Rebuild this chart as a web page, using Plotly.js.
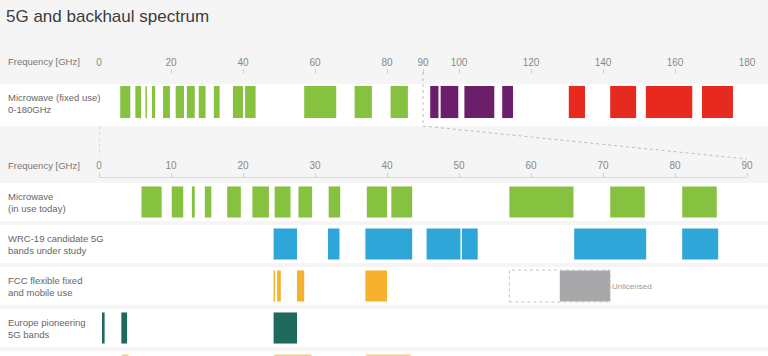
<!DOCTYPE html>
<html>
<head>
<meta charset="utf-8">
<script src="https://cdn.plot.ly/plotly-3.0.1.min.js"></script>
<style>html,body{margin:0;padding:0;background:#f5f5f5;}#chart{width:768px;height:356px;}</style>
</head>
<body>
<div id="chart"></div>
<script>
// ---- data (GHz) ----
const topAxisTicks = [0, 20, 40, 60, 80, 90, 100, 120, 140, 160, 180];
const bottomAxisTicks = [0, 10, 20, 30, 40, 50, 60, 70, 80, 90];

const topRowLabel = 'Microwave (fixed use)<br>0-180GHz';
const bottomRowLabels = ['Microwave<br>(in use today)', 'WRC-19 candidate 5G<br>bands under study', 'FCC flexible fixed<br>and mobile use', 'Europe pioneering<br>5G bands', ''];
const bottomRowKeys = ['mw', 'wrc', 'fcc', 'eu', 'other'];

const microwaveStart = [5.9, 10.1, 12.9, 14.7, 17.8, 21.3, 24.4, 27.7, 31.9, 37.2, 40.6, 57, 71, 81];
const microwaveEnd   = [8.7, 11.7, 13.3, 15.6, 19.7, 23.6, 26.6, 29.6, 33.5, 40.0, 43.5, 65.9, 75.8, 85.8];
const wbandStart = [92.0, 94.9, 101.5, 112.0];
const wbandEnd   = [94.3, 99.8, 109.8, 115.0];
const dbandStart = [130.5, 142.0, 151.9, 167.5];
const dbandEnd   = [135.0, 149.2, 164.8, 176.1];
const wrcStart = [24.25, 31.8, 37.0, 45.5, 50.4, 66.0, 81.0];
const wrcEnd   = [27.5, 33.4, 43.5, 50.2, 52.6, 76.0, 86.0];
const fccStart = [24.25, 24.75, 27.5, 37.0];
const fccEnd   = [24.45, 25.25, 28.5, 40.0];
const unlicensedStart = [64];
const unlicensedEnd   = [71];
const unlicensedOutline = [57, 71];
const europeStart = [0.42, 3.1, 24.25];
const europeEnd   = [0.78, 3.9, 27.5];
const otherStart = [3.15, 24.35, 37.1];
const otherEnd   = [4.1, 29.5, 43.3];

// ---- helpers ----
const H = 356;
const py = p => 1 - p / H;
const FONT = 'Liberation Sans, Arial, sans-serif';

function bars(starts, ends, cat, color, xa, ya, w) {
  return {
    type: 'bar', orientation: 'h',
    base: starts,
    x: starts.map((s, i) => ends[i] - s),
    y: starts.map(() => cat),
    xaxis: xa, yaxis: ya,
    width: w,
    marker: {color: color, line: {width: 0}},
    hoverinfo: 'skip', showlegend: false
  };
}

const traces = [
  bars(microwaveStart, microwaveEnd, 'top', '#86c140', 'x', 'y', 0.73),
  bars(wbandStart, wbandEnd, 'top', '#6b1e6a', 'x', 'y', 0.73),
  bars(dbandStart, dbandEnd, 'top', '#e62a1f', 'x', 'y', 0.73),
  bars(microwaveStart, microwaveEnd, 'mw', '#86c140', 'x2', 'y2', 0.74),
  bars(wrcStart, wrcEnd, 'wrc', '#2ea7d8', 'x2', 'y2', 0.74),
  bars(fccStart, fccEnd, 'fcc', '#f6b22c', 'x2', 'y2', 0.74),
  bars(unlicensedStart, unlicensedEnd, 'fcc', '#a8a8aa', 'x2', 'y2', 0.74),
  bars(europeStart, europeEnd, 'eu', '#1f6a5c', 'x2', 'y2', 0.74),
  bars(otherStart, otherEnd, 'other', '#f8cd84', 'x2', 'y2', 0.74)
];

// white row bands
const shapes = [];
shapes.push({type: 'rect', xref: 'paper', yref: 'paper', x0: -0.2, x1: 1.1, y0: py(126), y1: py(84),
  fillcolor: '#ffffff', line: {width: 0}, layer: 'below'});
bottomRowKeys.forEach((k, i) => {
  const c = 202 + 42 * i;
  shapes.push({type: 'rect', xref: 'paper', yref: 'paper', x0: -0.2, x1: 1.1,
    y0: Math.max(0, py(c + 19)), y1: py(c - 19), fillcolor: '#ffffff', line: {width: 0}, layer: 'below'});
});
// dashed connector lines
const dashStyle = {color: '#bdbdbd', width: 1, dash: '3px,3px'};
shapes.push({type: 'line', xref: 'x', yref: 'paper', x0: topAxisTicks[0], x1: topAxisTicks[0], y0: py(126), y1: py(153), line: dashStyle});
shapes.push({type: 'line', xref: 'x', yref: 'paper', x0: 90, x1: 90, y0: py(72), y1: py(126), line: dashStyle});
shapes.push({type: 'line', xref: 'paper', yref: 'paper', x0: 0.5, x1: 1, y0: py(126), y1: py(159), line: dashStyle});
// unlicensed dotted outline
shapes.push({type: 'rect', xref: 'x2', yref: 'paper', x0: unlicensedOutline[0], x1: unlicensedOutline[1],
  y0: py(302), y1: py(270), line: {color: '#c4c4c4', width: 1, dash: 'dot'}, fillcolor: 'rgba(0,0,0,0)'});

const labelX = (6 - 99) / 648;
const annotations = [
  {text: 'Frequency [GHz]', xref: 'paper', yref: 'paper', x: labelX, y: py(61), xanchor: 'left', yanchor: 'middle',
   showarrow: false, font: {family: FONT, size: 9.5, color: '#777'}},
  {text: 'Frequency [GHz]', xref: 'paper', yref: 'paper', x: labelX, y: py(165), xanchor: 'left', yanchor: 'middle',
   showarrow: false, font: {family: FONT, size: 9.5, color: '#777'}},
  {text: topRowLabel, xref: 'paper', yref: 'paper', x: labelX, y: py(103), xanchor: 'left', yanchor: 'middle', align: 'left',
   showarrow: false, font: {family: FONT, size: 9.5, color: '#666'}},
  {text: 'Unlicensed', xref: 'x2', yref: 'paper', x: unlicensedEnd[0], y: py(286), xanchor: 'left', yanchor: 'middle',
   showarrow: false, font: {family: FONT, size: 8, color: '#999'}}
];
bottomRowLabels.forEach((t, i) => {
  if (!t) return;
  annotations.push({text: t, xref: 'paper', yref: 'paper', x: labelX, y: py(202 + 42 * i), xanchor: 'left', yanchor: 'middle',
    align: 'left', showarrow: false, font: {family: FONT, size: 9.5, color: '#666'}});
});

const layout = {
  width: 768, height: 356,
  margin: {l: 99, r: 21, t: 0, b: 0},
  paper_bgcolor: '#f5f5f5', plot_bgcolor: 'rgba(0,0,0,0)',
  barmode: 'overlay',
  font: {family: FONT},
  title: {text: '5G and backhaul spectrum', xref: 'container', yref: 'container', x: 6 / 768, y: py(16),
    xanchor: 'left', yanchor: 'middle', font: {family: FONT, size: 17, color: '#3c3c3c'}},
  xaxis: {range: [0, 180], domain: [0, 1], anchor: 'free', position: py(68), side: 'top',
    tickmode: 'array', tickvals: topAxisTicks, ticktext: topAxisTicks.map(String),
    ticks: 'inside', ticklen: 5, tickcolor: '#d0d0d0', showline: false, showgrid: false, zeroline: false,
    tickfont: {family: FONT, size: 10, color: '#888'}, fixedrange: true},
  xaxis2: {range: [0, 90], domain: [0, 1], anchor: 'free', position: py(177), side: 'top',
    tickmode: 'array', tickvals: bottomAxisTicks, ticktext: bottomAxisTicks.map(String),
    ticks: 'outside', ticklen: 4, tickcolor: '#d0d0d0', showline: true, linecolor: '#d8d8d8', linewidth: 1,
    showgrid: false, zeroline: false, tickfont: {family: FONT, size: 10, color: '#888'}, fixedrange: true},
  yaxis: {domain: [py(124), py(80)], type: 'category', categoryarray: ['top'], range: [-0.5, 0.5],
    showticklabels: false, showgrid: false, zeroline: false, ticks: '', fixedrange: true},
  yaxis2: {domain: [0, py(181)], type: 'category', categoryarray: bottomRowKeys, range: [(356 - 181) / 42 - 0.5, -0.5],
    showticklabels: false, showgrid: false, zeroline: false, ticks: '', fixedrange: true},
  shapes: shapes,
  annotations: annotations
};

Plotly.newPlot('chart', traces, layout, {staticPlot: true, displayModeBar: false});
</script>
</body>
</html>
